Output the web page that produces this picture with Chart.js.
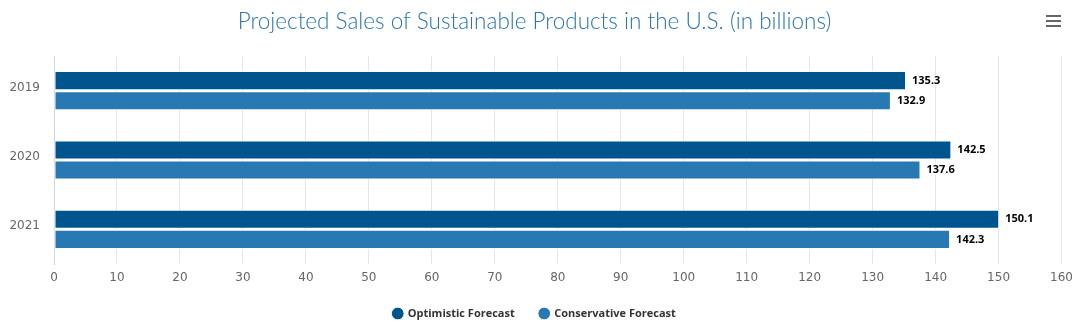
<!DOCTYPE html>
<html>
<head>
<meta charset="utf-8">
<script src="https://cdn.jsdelivr.net/npm/chart.js@4.4.0/dist/chart.umd.min.js"></script>
<style>
  html, body { margin: 0; padding: 0; background: #fff; }
  #wrap { position: relative; width: 1080px; height: 329px; }
  #menu { position: absolute; left: 1046px; top: 15px; width: 15px; height: 12px; }
  #menu span { position: absolute; left: 0; width: 15px; height: 2px; background: #666; }
</style>
</head>
<body>
<div id="wrap">
  <canvas id="c" width="1080" height="329"></canvas>
  <div id="menu"><span style="top:0"></span><span style="top:5px"></span><span style="top:10px"></span></div>
</div>
<script>
const titleText = "Projected Sales of Sustainable Products in the U.S. (in billions)";
const categories = ["2019", "2020", "2021"];
const seriesNames = ["Optimistic Forecast", "Conservative Forecast"];
const optimistic = [135.3, 142.5, 150.1];
const conservative = [132.9, 137.6, 142.3];
const xTicks = [0, 10, 20, 30, 40, 50, 60, 70, 80, 90, 100, 110, 120, 130, 140, 150, 160];

const colors = ["#00558f", "#2878b4"];

const dataLabels = {
  id: "dataLabels",
  afterDatasetsDraw(chart) {
    const ctx = chart.ctx;
    ctx.save();
    ctx.font = "bold 11px 'Open Sans'";
    ctx.textBaseline = "middle";
    ctx.textAlign = "left";
    ctx.lineJoin = "round";
    chart.data.datasets.forEach((ds, di) => {
      const meta = chart.getDatasetMeta(di);
      meta.data.forEach((el, i) => {
        const txt = ds.data[i].toFixed(1);
        const x = el.x + 6, y = el.y;
        ctx.strokeStyle = "#fff";
        ctx.lineWidth = 2;
        ctx.strokeText(txt, x, y);
        ctx.fillStyle = "#000";
        ctx.fillText(txt, x, y);
      });
    });
    ctx.restore();
  }
};

new Chart(document.getElementById("c"), {
  type: "bar",
  data: {
    labels: categories,
    datasets: [
      { label: seriesNames[0], data: optimistic, backgroundColor: colors[0], borderColor: "#fff", borderWidth: 1, borderSkipped: false,
        categoryPercentage: 0.58, barPercentage: 0.95 },
      { label: seriesNames[1], data: conservative, backgroundColor: colors[1], borderColor: "#fff", borderWidth: 1, borderSkipped: false,
        categoryPercentage: 0.58, barPercentage: 0.95 }
    ]
  },
  options: {
    indexAxis: "y",
    responsive: false,
    animation: false,
    layout: { padding: { left: 0, right: 11, top: 0, bottom: 0 } },
    scales: {
      x: {
        min: 0, max: 160,
        afterBuildTicks(scale) { scale.ticks = xTicks.map(v => ({ value: v })); },
        grid: { color: "#e6e6e6", drawTicks: false },
        border: { display: false },
        ticks: { color: "#666", font: { family: "'DejaVu Sans'", size: 12 }, padding: 7, maxRotation: 0, autoSkip: false },
        afterFit(scale) { scale.height = 19; }
      },
      y: {
        grid: { display: false, drawTicks: false },
        border: { display: true, color: "#ccd6eb", width: 1 },
        ticks: { color: "#666", font: { family: "'DejaVu Sans'", size: 12 }, padding: 14, labelOffset: -3 },
        afterFit(scale) { scale.width = 54; }
      }
    },
    plugins: {
      title: {
        display: true,
        text: titleText,
        color: "#2b74b0",
        font: { family: "Lato", size: 22.5, weight: 300 },
        padding: { top: 8, bottom: 21 }
      },
      legend: {
        position: "bottom",
        labels: {
          usePointStyle: true,
          pointStyle: "circle",
          boxWidth: 9, boxHeight: 9,
          color: "#333",
          font: { family: "'Open Sans'", size: 11, weight: "bold" },
          padding: 25
        }
      },
      tooltip: { enabled: false }
    }
  },
  plugins: [dataLabels]
});
</script>
</body>
</html>
